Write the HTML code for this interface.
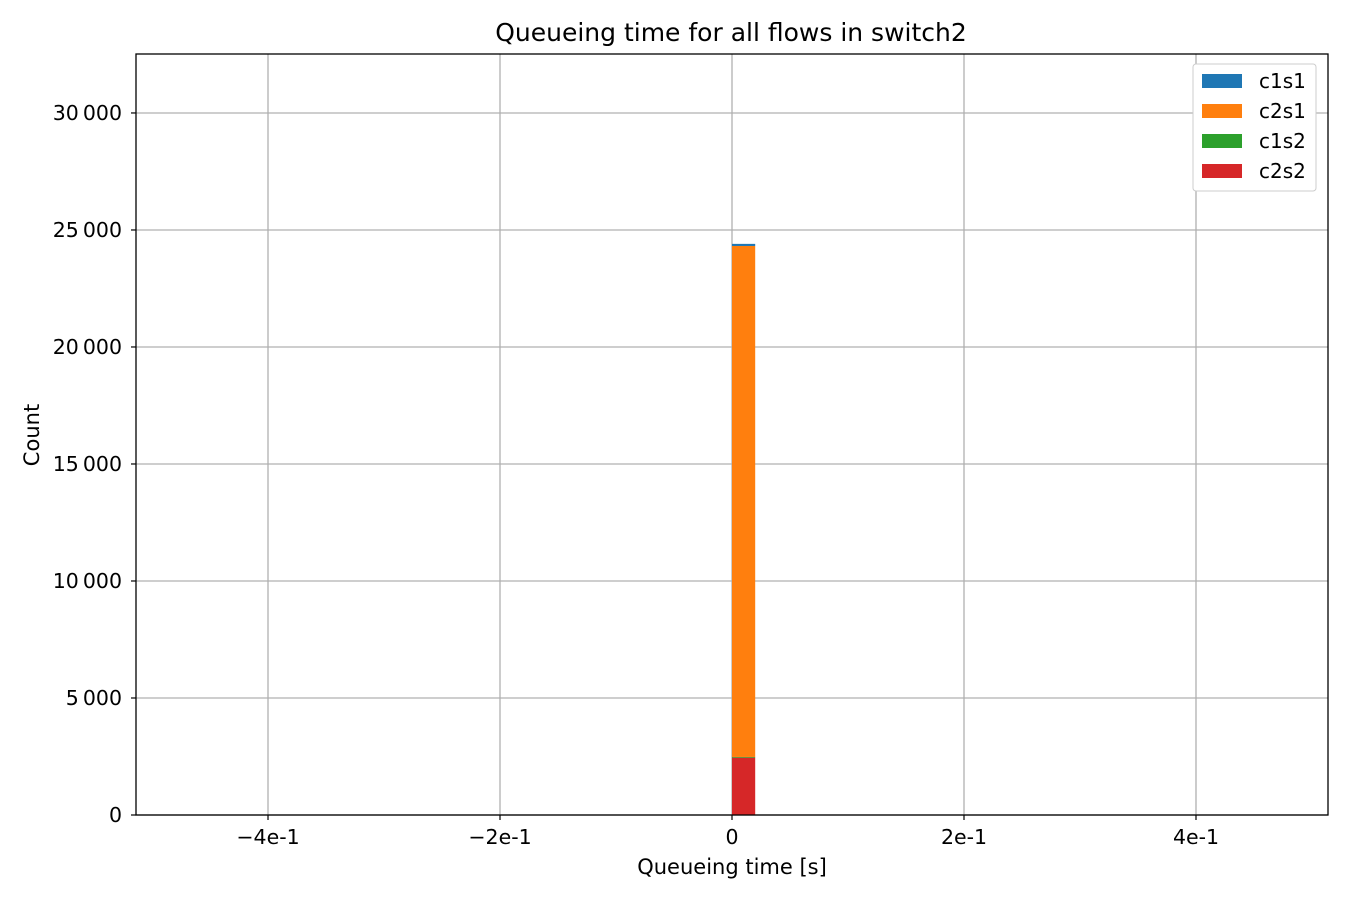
<!DOCTYPE html>
<html><head><meta charset="utf-8"><style>body{margin:0;background:#fff}svg{font-family:"DejaVu Sans","Liberation Sans",sans-serif}</style></head>
<body>
<svg id="c" width="1350" height="900">
<rect width="1350" height="900" fill="#fff"/>
<text x="731" y="41" text-anchor="middle" font-size="25">Queueing time for all flows in switch2</text>
<g id="grid"></g><g id="bars"></g><g id="ticks"></g>
<rect x="136" y="54" width="1192" height="761" fill="none" stroke="#000" stroke-width="1.3"/>
<text x="732" y="874" text-anchor="middle" font-size="21">Queueing time [s]</text>
<text x="39" y="435" text-anchor="middle" font-size="21" transform="rotate(-90 39 435)">Count</text>
<g id="legend">
<rect x="1193" y="64" width="123" height="127" rx="3" fill="#fff" stroke="#ccc"/>
</g>
</svg>
<script>
const series=["c1s1","c2s1","c1s2","c2s2"];
const colors=["#1f77b4","#ff7f0e","#2ca02c","#d62728"];
const binStart=[0];
const binWidth=0.02;
const c2s2=[2450];
const c1s2=[30];
const c2s1=[21836];
const c1s1=[90];
const xTicks=[-0.4,-0.2,0,0.2,0.4];
const xTickLabels=["\u22124e-1","\u22122e-1","0","2e-1","4e-1"];
const yTicks=[0,5000,10000,15000,20000,25000,30000];
const yTickLabels=["0","5\u2009000","10\u2009000","15\u2009000","20\u2009000","25\u2009000","30\u2009000"];
const X0=136,X1=1328,Y0=815,Y1=54,xmin=-0.5138,xmax=0.5138,ymax=32520;
const xs=v=>X0+(v-xmin)/(xmax-xmin)*(X1-X0);
const ys=v=>Y0-v/ymax*(Y0-Y1);
const NS="http://www.w3.org/2000/svg";
function mk(p,t,a){const e=document.createElementNS(NS,t);for(const k in a)e.setAttribute(k,a[k]);p.appendChild(e);return e;}
const grid=document.getElementById('grid'),tk=document.getElementById('ticks'),bars=document.getElementById('bars');
xTicks.forEach((v,i)=>{const x=xs(v);
 const g=mk(grid,'line',{x1:x,x2:x,y1:Y1,y2:Y0,stroke:'#b0b0b0','stroke-width':1.3});
 
 
 mk(tk,'line',{x1:x,x2:x,y1:Y0,y2:Y0+5,stroke:'#000','stroke-width':1.2});
 const t=mk(tk,'text',{x:x,y:Y0+29,'text-anchor':'middle','font-size':20.5});t.textContent=xTickLabels[i];
 
 });
yTicks.forEach((v,i)=>{const y=ys(v);
 const g=mk(grid,'line',{x1:X0,x2:X1,y1:y,y2:y,stroke:'#b0b0b0','stroke-width':1.3});
 
 
 mk(tk,'line',{x1:X0-5,x2:X0,y1:y,y2:y,stroke:'#000','stroke-width':1.2});
 const t=mk(tk,'text',{x:X0-14,y:y+7,'text-anchor':'end','font-size':20.5});t.textContent=yTickLabels[i];
 
 });
const order=[[c2s2,3],[c1s2,2],[c2s1,1],[c1s1,0]];
binStart.forEach((b,j)=>{let base=0;
 order.forEach(([arr,ci])=>{const v=arr[j];if(v<=0)return;
  const r=mk(bars,'rect',{x:xs(b),width:xs(b+binWidth)-xs(b),y:ys(base+v),height:ys(base)-ys(base+v),fill:colors[ci]});
  
  
  base+=v;});});
const lg=document.getElementById('legend');
series.forEach((s,i)=>{const y=74+i*30;
 const r=mk(lg,'rect',{x:1202,y:y,width:40,height:14,fill:colors[i]});
 
 
 const t=mk(lg,'text',{x:1259,y:y+14,'font-size':20});t.textContent=s;
 
 });
</script>
</body></html>
